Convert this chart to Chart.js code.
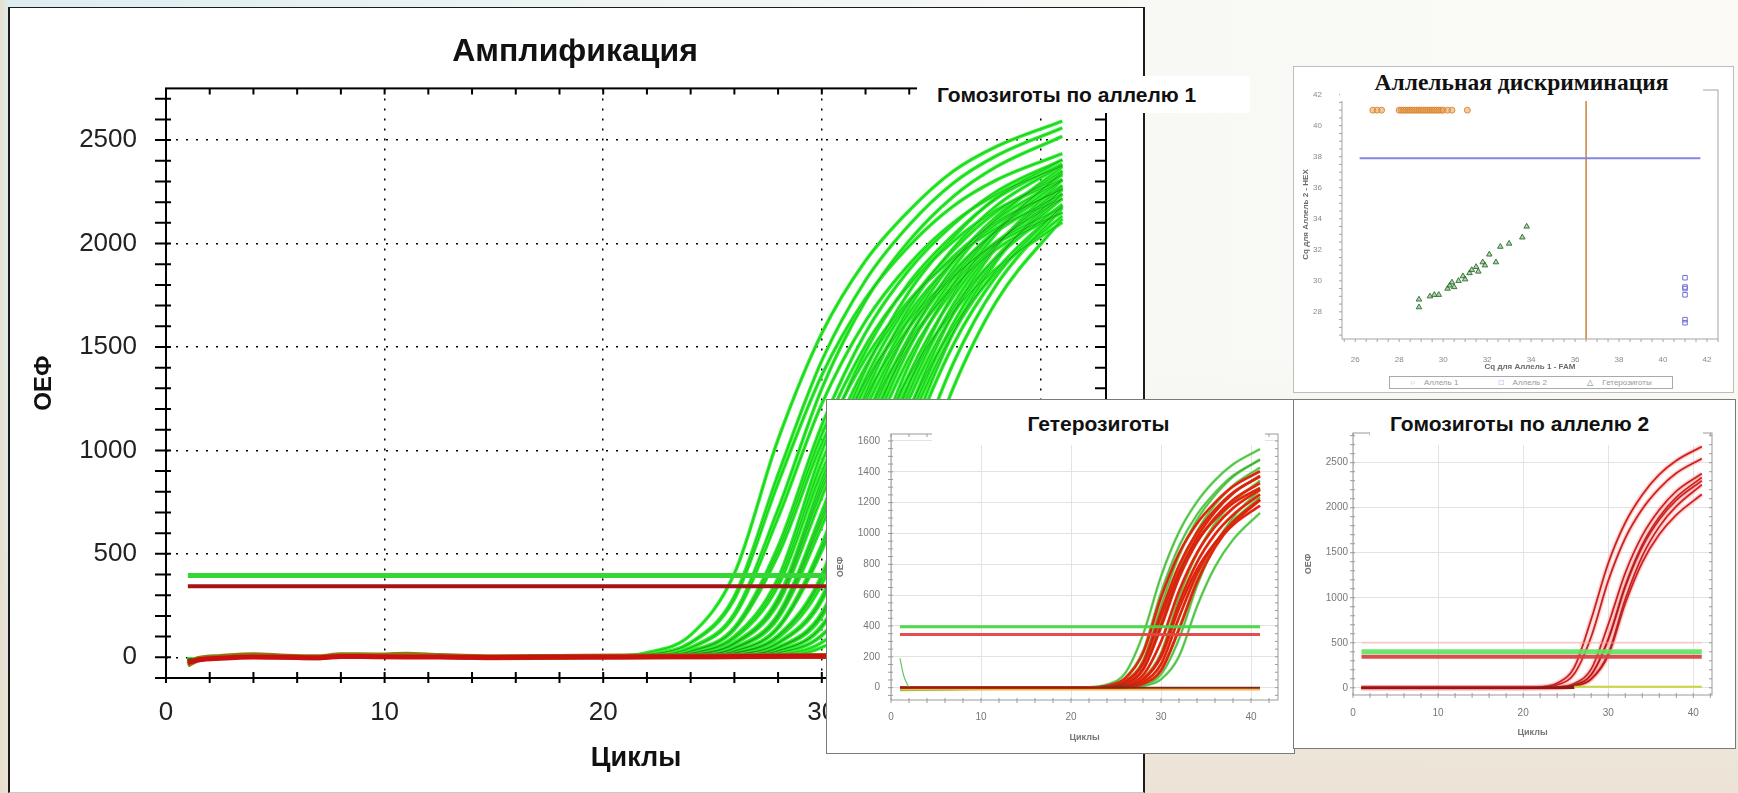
<!DOCTYPE html>
<html lang="ru">
<head>
<meta charset="utf-8">
<title>Амплификация</title>
<script src="https://cdn.jsdelivr.net/npm/chart.js@4.4.1/dist/chart.umd.min.js"></script>
<style>
  html, body { margin: 0; padding: 0; }
  body {
    width: 1738px; height: 793px; overflow: hidden; position: relative;
    background:
      linear-gradient(90deg, rgba(232,222,204,0.95) 0px, rgba(232,222,204,0) 9px),
      linear-gradient(180deg, rgba(236,227,214,0) 45%, rgba(236,227,214,1) 100%),
      linear-gradient(90deg, #dcedf1 0%, #eef5f4 35%, #f8f9f5 65%, #fbfaf6 100%);
    font-family: 'Liberation Sans', Arial, sans-serif;
  }
  .abs { position: absolute; }
  .box { position: absolute; box-sizing: border-box; background: #fff; }
  .tag { position: absolute; background: #fff; font-weight: bold; color: #111; white-space: nowrap; }
  .legend {
    position: absolute; box-sizing: border-box; border: 1px solid #aaa; background: #fff;
    display: flex; justify-content: space-around; align-items: center;
    font: 8px 'Liberation Sans', Arial, sans-serif; color: #999;
  }
</style>
</head>
<body>

<div class="box" style="left:8px;top:7px;width:1137px;height:786px;border:2px solid #1c1c1c;border-top-width:1px;border-bottom:1px solid #c8c8c8;"></div>
<canvas id="mainChart" class="abs" style="left:10px;top:10px;" width="1132" height="778"></canvas>
<div class="tag" style="left:917px;top:76px;width:333px;height:37px;line-height:37px;padding-left:20px;box-sizing:border-box;font-size:21px;">Гомозиготы по аллелю 1</div>

<div class="box" style="left:1293px;top:66px;width:441px;height:327px;border:1px solid #bdbdbd;"></div>
<canvas id="alleleChart" class="abs" style="left:1295px;top:68px;" width="437" height="323"></canvas>
<div class="tag" style="left:1340px;top:67px;width:363px;height:34px;line-height:30px;text-align:center;font-family:'Liberation Serif','Times New Roman',serif;font-size:23.5px;">Аллельная дискриминация</div>
<div class="legend" style="left:1389px;top:376px;width:284px;height:13px;">
  <span><span style="color:#e8b070">○</span>&nbsp;&nbsp;&nbsp;&nbsp;Аллель 1</span>
  <span><span style="color:#8080d8">□</span>&nbsp;&nbsp;&nbsp;&nbsp;Аллель 2</span>
  <span><span style="color:#6a8a6a">△</span>&nbsp;&nbsp;&nbsp;&nbsp;Гетерозиготы</span>
</div>

<div class="box" style="left:826px;top:399px;width:469px;height:355px;border:1px solid #7a7a7a;"></div>
<canvas id="hetChart" class="abs" style="left:828px;top:401px;" width="465" height="351"></canvas>
<div class="tag" style="left:932px;top:401px;width:333px;height:44px;line-height:46px;text-align:center;font-size:21px;">Гетерозиготы</div>

<div class="box" style="left:1293px;top:399px;width:443px;height:350px;border:1px solid #7a7a7a;"></div>
<canvas id="homChart" class="abs" style="left:1295px;top:401px;" width="439" height="345"></canvas>
<div class="tag" style="left:1370px;top:401px;width:333px;height:44px;line-height:46px;padding-left:20px;box-sizing:border-box;font-size:21px;">Гомозиготы по аллелю 2</div>

<script>
// ---- main chart: homozygotes allele 1 (FAM) ----
const MAIN_X_TICKS = [0, 10, 20, 30, 40];
const MAIN_Y_TICKS = [0, 500, 1000, 1500, 2000, 2500];
const MAIN_CYCLES = [1, 3, 20, 22, 24, 26, 28, 30, 32, 34, 36, 38, 41];
const mainCurves = [
  [-15, 0, 3, 22, 108, 405, 1053, 1566, 1917, 2160, 2349, 2470, 2592],
  [-12, 0, 2, 13, 72, 295, 884, 1434, 1822, 2090, 2291, 2425, 2559],
  [-10, 0, 2, 8, 48, 212, 716, 1299, 1723, 2014, 2226, 2372, 2518],
  [-14, 0, 1, 5, 31, 145, 536, 1122, 1568, 1874, 2091, 2252, 2405],
  [-8, 0, 1, 5, 29, 140, 515, 1078, 1507, 1801, 2009, 2163, 2310],
  [-12, 0, 0, 0, 20, 102, 383, 995, 1479, 1811, 2040, 2219, 2384],
  [-10, 0, 0, 0, 19, 97, 363, 944, 1404, 1718, 1936, 2105, 2263],
  [-16, 0, 0, 0, 13, 70, 286, 858, 1391, 1768, 2028, 2223, 2405],
  [-9, 0, 0, 0, 12, 66, 270, 809, 1311, 1666, 1911, 2095, 2266],
  [-13, 0, 0, 0, 8, 47, 208, 702, 1274, 1690, 1976, 2184, 2379],
  [-11, 0, 0, 0, 7, 44, 196, 662, 1200, 1593, 1862, 2058, 2242],
  [-14, 0, 0, 0, 5, 31, 148, 546, 1144, 1599, 1911, 2132, 2353],
  [-10, 0, 0, 0, 5, 29, 140, 515, 1078, 1507, 1801, 2009, 2217],
  [-12, 0, 0, 0, 0, 21, 106, 398, 1034, 1537, 1882, 2120, 2372],
  [-9, 0, 0, 0, 0, 20, 100, 375, 975, 1450, 1775, 2000, 2238],
  [-15, 0, 0, 0, 0, 13, 72, 292, 875, 1418, 1802, 2067, 2340],
  [-11, 0, 0, 0, 0, 12, 67, 273, 818, 1327, 1686, 1934, 2190],
  [-13, 0, 0, 0, 0, 8, 49, 216, 729, 1323, 1755, 2052, 2349],
  [-10, 0, 0, 0, 0, 8, 46, 204, 689, 1250, 1658, 1938, 2219],
  [-12, 0, 0, 0, 0, 5, 32, 154, 567, 1188, 1661, 1985, 2309],
  [-9, 0, 0, 0, 0, 5, 31, 145, 536, 1122, 1568, 1874, 2180],
  [-14, 0, 0, 0, 0, 0, 22, 108, 405, 1053, 1566, 1917, 2268],
  [-11, 0, 0, 0, 0, 0, 13, 72, 292, 875, 1418, 1802, 2173],
  [-10, 0, 0, 0, 0, 0, 8, 48, 212, 716, 1299, 1723, 2120],
  [-12, 0, 0, 0, 12, 63, 259, 776, 1257, 1598, 1833, 2009, 2174],
  [-8, 0, 0, 0, 0, 19, 94, 353, 917, 1363, 1669, 1880, 2103],
  [-13, 0, 0, 0, 8, 45, 202, 680, 1235, 1638, 1915, 2117, 2306],
  [-10, 0, 0, 0, 0, 7, 44, 196, 662, 1201, 1593, 1862, 2133],
  [-11, 0, 2, 13, 69, 281, 842, 1364, 1734, 1989, 2180, 2308, 2435],
  [-9, 0, 1, 8, 45, 200, 675, 1225, 1625, 1900, 2100, 2238, 2375],
  [-12, 0, 1, 5, 28, 134, 494, 1034, 1445, 1727, 1927, 2075, 2216],
  [-10, 0, 0, 0, 18, 92, 345, 897, 1334, 1633, 1840, 2001, 2151],
  [-13, 0, 0, 0, 13, 68, 277, 832, 1348, 1714, 1966, 2155, 2331],
  [-11, 0, 0, 0, 7, 42, 188, 635, 1152, 1528, 1786, 1974, 2150],
  [-14, 0, 0, 0, 5, 30, 144, 529, 1109, 1550, 1852, 2066, 2281],
  [-10, 0, 0, 0, 0, 21, 103, 387, 1006, 1496, 1832, 2064, 2309],
  [-12, 0, 0, 0, 0, 13, 69, 282, 845, 1370, 1741, 1997, 2260],
  [-9, 0, 0, 0, 0, 8, 47, 210, 707, 1284, 1703, 1991, 2279],
  [-13, 0, 0, 0, 0, 5, 31, 149, 550, 1153, 1611, 1926, 2240],
  [-11, 0, 0, 0, 0, 0, 21, 104, 390, 1014, 1508, 1846, 2184]
];
const BASE_X = [1, 1.5, 2.5, 4, 5.5, 7, 8, 9.5, 11, 12.5, 15, 18, 21, 25, 29, 33, 37, 41];
const MAIN_BASE_RED = [-25, -12, -4, 2, 0, -2, 4, 3, 2, 1, -1, 1, 2, 3, 5, 5, 4, 4];
const MAIN_BASE_OLIVE = [-35, -8, 2, 10, 3, 0, 10, 9, 12, 6, 0, 2, 4, 5, 6, 7, 6, 6];
const DIP_X = [1, 1.3, 1.8];
const MAIN_DIP = [-40, -25, -8];
const THR_X = [1, 41];
const MAIN_THR_GREEN = [396, 396];
const MAIN_THR_RED = [343, 343];

// ---- heterozygotes inset ----
const HET_X_TICKS = [0, 10, 20, 30, 40];
const HET_Y_TICKS = [0, 200, 400, 600, 800, 1000, 1200, 1400, 1600];
const HET_CYCLES = [1, 20, 22, 24, 26, 28, 30, 32, 34, 36, 38, 41];
const hetGreenCurves = [
  [-15, 0, 3, 20, 93, 344, 722, 1009, 1205, 1345, 1448, 1547],
  [-10, 0, 0, 13, 63, 237, 616, 916, 1122, 1264, 1375, 1477],
  [-12, 0, 0, 5, 28, 125, 421, 764, 1014, 1186, 1310, 1427],
  [-8, 0, 0, 0, 12, 60, 225, 585, 870, 1065, 1200, 1343],
  [-14, 0, 0, 0, 4, 26, 114, 383, 696, 923, 1079, 1235],
  [-10, 0, 0, 0, 0, 11, 54, 203, 527, 783, 959, 1134],
  [-12, 0, 0, 0, 3, 18, 86, 315, 660, 923, 1103, 1283],
  [-9, 0, 0, 8, 43, 176, 528, 856, 1088, 1248, 1368, 1480]
];
const hetRedCurves = [
  [0, 0, 0, 12, 60, 225, 585, 870, 1065, 1200, 1305, 1403],
  [0, 0, 0, 7, 40, 163, 488, 792, 1006, 1154, 1265, 1369],
  [0, 0, 0, 4, 26, 116, 392, 711, 943, 1102, 1218, 1327],
  [0, 0, 0, 3, 17, 81, 298, 625, 873, 1044, 1164, 1285],
  [0, 0, 0, 0, 11, 56, 210, 546, 812, 994, 1120, 1253],
  [0, 0, 0, 0, 7, 37, 152, 455, 738, 938, 1076, 1219],
  [0, 0, 0, 5, 27, 120, 405, 735, 975, 1140, 1260, 1373],
  [0, 0, 0, 0, 4, 25, 112, 378, 686, 910, 1064, 1218],
  [0, 0, 0, 7, 38, 154, 462, 749, 952, 1092, 1197, 1295],
  [0, 0, 0, 0, 11, 53, 198, 515, 766, 937, 1056, 1181]
];
const HET_SPIKE_X = [1, 1.4, 2];
const HET_SPIKE = [190, 80, 0];
const HET_BASE_DARK = [0, 0];
const HET_BASE_ORANGE = [-12, -12];
const HET_THR_GREEN = [395, 395];
const HET_THR_RED = [345, 345];

// ---- homozygotes allele 2 inset ----
const HOM_X_TICKS = [0, 10, 20, 30, 40];
const HOM_Y_TICKS = [0, 500, 1000, 1500, 2000, 2500];
const HOM_CYCLES = [1, 20, 22, 24, 26, 28, 30, 32, 34, 36, 38, 41];
const homCurves = [
  [0, 0, 8, 51, 226, 761, 1382, 1833, 2143, 2369, 2524, 2679],
  [0, 0, 5, 32, 154, 567, 1188, 1661, 1985, 2214, 2384, 2546],
  [0, 0, 0, 8, 47, 208, 702, 1274, 1690, 1976, 2184, 2379],
  [0, 0, 0, 5, 31, 147, 542, 1135, 1587, 1896, 2116, 2335],
  [0, 0, 0, 5, 30, 145, 533, 1118, 1562, 1867, 2083, 2299],
  [0, 0, 0, 0, 20, 101, 378, 983, 1462, 1789, 2016, 2255],
  [0, 0, 0, 0, 19, 96, 360, 936, 1392, 1704, 1920, 2148]
];
const HOM_BASE_DARK_X = [1, 26];
const HOM_BASE_DARK = [0, 0];
const HOM_BASE_YELLOW_X = [26, 41];
const HOM_BASE_YELLOW = [12, 12];
const HOM_THR_GREEN = [400, 400];
const HOM_THR_RED = [345, 345];
const HOM_THR_PINK = [500, 500];

// ---- allelic discrimination scatter ----
const AD_X_TICKS = [26, 28, 30, 32, 34, 36, 38, 40, 42];
const AD_Y_TICKS = [28, 30, 32, 34, 36, 38, 40, 42];
const ALLELE1_X = [26.8, 27.0, 27.2, 28.0, 28.1, 28.2, 28.3, 28.4, 28.5, 28.6, 28.7, 28.8, 28.9, 29.0, 29.1, 29.2, 29.3, 29.4, 29.5, 29.6, 29.7, 29.8, 29.9, 30.0, 30.2, 30.4, 31.1];
const ALLELE1_Y = [41.0, 41.0, 41.0, 41.0, 41.0, 41.0, 41.0, 41.0, 41.0, 41.0, 41.0, 41.0, 41.0, 41.0, 41.0, 41.0, 41.0, 41.0, 41.0, 41.0, 41.0, 41.0, 41.0, 41.0, 41.0, 41.0, 41.0];
const ALLELE2_X = [41.0, 41.0, 41.0, 41.0, 41.0, 41.0];
const ALLELE2_Y = [30.2, 29.6, 29.5, 29.1, 27.5, 27.3];
const HETERO_X = [28.9, 28.9, 29.4, 29.6, 29.8, 30.2, 30.3, 30.4, 30.5, 30.7, 30.9, 31.0, 31.2, 31.3, 31.5, 31.6, 31.8, 31.9, 32.1, 32.4, 32.6, 33.0, 33.6, 33.8];
const HETERO_Y = [28.3, 28.8, 29.0, 29.1, 29.1, 29.5, 29.7, 29.9, 29.6, 30.0, 30.3, 30.1, 30.5, 30.7, 30.9, 30.6, 31.2, 31.0, 31.7, 31.2, 32.2, 32.4, 32.8, 33.5];
const CUT_HEX_X = [26.2, 41.7];
const CUT_HEX_Y = [37.9, 37.9];
const CUT_FAM_X = [36.5, 36.5];
const CUT_FAM_Y = [26.25, 42.3];

const SANS = "'Liberation Sans', Arial, sans-serif";

// frame around the plot area plus the minor tick marks on all four sides
const frameTicks = {
  id: 'frameTicks',
  afterDatasetsDraw(chart, args, o) {
    const { ctx, chartArea: a } = chart;
    const x = chart.scales.x, y = chart.scales.y;
    ctx.save();
    ctx.strokeStyle = o.color;
    ctx.lineWidth = o.width;
    ctx.strokeRect(a.left, a.top, a.right - a.left, a.bottom - a.top);
    ctx.beginPath();
    for (let i = Math.ceil(x.min / o.xStep); i * o.xStep <= x.max; i++) {
      const px = x.getPixelForValue(i * o.xStep);
      ctx.moveTo(px, a.bottom - o.bIn); ctx.lineTo(px, a.bottom + o.bOut);
      if (o.tIn) { ctx.moveTo(px, a.top); ctx.lineTo(px, a.top + o.tIn); }
    }
    for (let i = Math.ceil(y.min / o.yStep); i * o.yStep <= y.max; i++) {
      const py = y.getPixelForValue(i * o.yStep);
      ctx.moveTo(a.left - o.lOut, py); ctx.lineTo(a.left + o.lIn, py);
      if (o.rIn) { ctx.moveTo(a.right - o.rIn, py); ctx.lineTo(a.right, py); }
    }
    ctx.stroke();
    ctx.restore();
  }
};

function points(xs, ys) {
  return ys.map((v, i) => ({ x: xs[i], y: v }));
}

function lineSet(xs, ys, color, width, order) {
  return {
    data: points(xs, ys),
    borderColor: color,
    borderWidth: width,
    pointRadius: 0,
    fill: false,
    cubicInterpolationMode: 'monotone',
    order: order
  };
}

function fixedTicks(values) {
  return function(scale) {
    scale.ticks = values.map(v => ({ value: v }));
  };
}

const plainLabel = v => String(v);

// shared axis setup for the three amplification plots
function ampScales(c) {
  return {
    x: {
      type: 'linear', min: c.xMin, max: c.xMax,
      afterBuildTicks: fixedTicks(c.xTicks),
      afterFit: s => { s.height = c.xHeight; },
      ticks: { padding: c.xPad, maxRotation: 0, autoSkip: false, color: c.tickColor, font: c.tickFont, callback: plainLabel },
      grid: { drawTicks: false, color: c.gridColor, lineWidth: c.gridWidth },
      border: { display: false, dash: c.dash },
      title: { display: true, text: 'Циклы', color: c.titleColor, font: c.xTitleFont, padding: { top: 0, bottom: c.xTitlePad } }
    },
    y: {
      type: 'linear', min: c.yMin, max: c.yMax,
      afterBuildTicks: fixedTicks(c.yTicks),
      afterFit: s => { s.width = c.yWidth; },
      ticks: { padding: c.yPad, autoSkip: false, color: c.tickColor, font: c.tickFont, callback: plainLabel },
      grid: { drawTicks: false, color: c.gridColor, lineWidth: c.gridWidth },
      border: { display: false, dash: c.dash },
      title: { display: true, text: 'ОЕФ', color: c.titleColor, font: c.yTitleFont, padding: { top: c.yTitlePad, bottom: 0 } }
    }
  };
}

const baseOptions = {
  responsive: false,
  animation: false,
  events: [],
  elements: { point: { radius: 0 } }
};

// Main amplification chart
function initMainChart() {
  const datasets = [
    lineSet(THR_X, MAIN_THR_GREEN, '#36d636', 5, 0),
    lineSet(THR_X, MAIN_THR_RED, '#a41414', 4, 0),
    lineSet(BASE_X, MAIN_BASE_RED, '#cc1010', 5, 1),
    lineSet(BASE_X, MAIN_BASE_OLIVE, '#8c7a12', 6, 2),
    lineSet(DIP_X, MAIN_DIP, '#45b845', 3, 2)
  ];
  mainCurves.forEach(c => datasets.push(lineSet(MAIN_CYCLES, c, 'rgba(30,120,30,0.55)', 0.8, 3)));
  mainCurves.forEach(c => datasets.push(lineSet(MAIN_CYCLES, c, '#2cf22c', 3.5, 4)));

  new Chart(document.getElementById('mainChart'), {
    type: 'line',
    data: { datasets },
    options: Object.assign({}, baseOptions, {
      layout: { padding: { left: 34, right: 36, top: 0, bottom: 0 } },
      plugins: {
        legend: { display: false },
        tooltip: { enabled: false },
        title: {
          display: true, text: 'Амплификация', color: '#111',
          font: { family: SANS, size: 32, weight: 'bold', lineHeight: 1.2 },
          padding: { top: 23, bottom: 17 }
        },
        frameTicks: { color: '#000', width: 2, xStep: 2, yStep: 100, bIn: 6, bOut: 5, tIn: 6, lOut: 11, lIn: 5, rIn: 11 }
      },
      scales: ampScales({
        xMin: 0, xMax: 43, yMin: -100, yMax: 2750,
        xTicks: MAIN_X_TICKS, yTicks: MAIN_Y_TICKS,
        xHeight: 110, yWidth: 122, xPad: 19, yPad: 29,
        tickColor: '#222', tickFont: { family: SANS, size: 26, lineHeight: 1.2 },
        gridColor: '#000', gridWidth: 1.5, dash: [2, 8],
        titleColor: '#111',
        xTitleFont: { family: SANS, size: 27, weight: 'bold', lineHeight: 1.2 }, xTitlePad: 13,
        yTitleFont: { family: SANS, size: 24, weight: 'bold', lineHeight: 1.2 }, yTitlePad: -14
      })
    }),
    plugins: [frameTicks]
  });
}

// Heterozygotes inset
function initHetChart() {
  const datasets = [
    lineSet(THR_X, HET_THR_GREEN, 'rgba(70,215,70,0.95)', 3, 0),
    lineSet(THR_X, HET_THR_RED, 'rgba(225,70,70,0.95)', 3, 0),
    lineSet(THR_X, HET_BASE_DARK, '#7a2a1a', 2, 1),
    lineSet(THR_X, HET_BASE_ORANGE, '#ffb347', 2, 2),
    lineSet(HET_SPIKE_X, HET_SPIKE, '#66c266', 1.2, 2)
  ];
  hetRedCurves.forEach(c => datasets.push(lineSet(HET_CYCLES, c, 'rgba(120,45,20,0.55)', 0.7, 3)));
  hetRedCurves.forEach(c => datasets.push(lineSet(HET_CYCLES, c, '#f0280f', 2.8, 4)));
  hetGreenCurves.forEach(c => datasets.push(lineSet(HET_CYCLES, c, 'rgba(60,110,40,0.6)', 0.7, 5)));
  hetGreenCurves.forEach(c => datasets.push(lineSet(HET_CYCLES, c, 'rgba(90,215,80,0.9)', 2.6, 6)));

  new Chart(document.getElementById('hetChart'), {
    type: 'line',
    data: { datasets },
    options: Object.assign({}, baseOptions, {
      layout: { padding: { left: 0, right: 15, top: 33, bottom: 0 } },
      plugins: {
        legend: { display: false },
        tooltip: { enabled: false },
        frameTicks: { color: '#9a9a9a', width: 1, xStep: 2, yStep: 50, bIn: 2, bOut: 3, tIn: 3, lOut: 3, lIn: 2, rIn: 3 }
      },
      scales: ampScales({
        xMin: 0, xMax: 43, yMin: -80, yMax: 1645,
        xTicks: HET_X_TICKS, yTicks: HET_Y_TICKS,
        xHeight: 52, yWidth: 63, xPad: 11, yPad: 11,
        tickColor: '#777', tickFont: { family: SANS, size: 10, lineHeight: 1.2 },
        gridColor: '#e3e3e3', gridWidth: 1, dash: [],
        titleColor: '#777',
        xTitleFont: { family: SANS, size: 9, weight: 'bold', lineHeight: 1.2 }, xTitlePad: 9,
        yTitleFont: { family: SANS, size: 9, weight: 'bold', lineHeight: 1.2 }, yTitlePad: 7
      })
    }),
    plugins: [frameTicks]
  });
}

// Homozygotes allele 2 inset
function initHomChart() {
  const datasets = [
    lineSet(THR_X, HOM_THR_GREEN, 'rgba(95,225,95,0.9)', 5, 0),
    lineSet(THR_X, HOM_THR_RED, 'rgba(215,70,70,0.95)', 4, 0),
    lineSet(THR_X, HOM_THR_PINK, 'rgba(255,170,170,0.45)', 2, 0),
    lineSet(HOM_BASE_DARK_X, HOM_BASE_DARK, '#8a1a1a', 2.5, 1),
    lineSet(HOM_BASE_YELLOW_X, HOM_BASE_YELLOW, '#c9d43a', 2, 1)
  ];
  homCurves.forEach(c => datasets.push(lineSet(HOM_CYCLES, c, 'rgba(110,20,20,0.7)', 0.8, 2)));
  homCurves.forEach(c => datasets.push(lineSet(HOM_CYCLES, c, '#ef3b3b', 2, 3)));
  homCurves.forEach(c => datasets.push(lineSet(HOM_CYCLES, c, 'rgba(255,150,150,0.35)', 5, 4)));

  new Chart(document.getElementById('homChart'), {
    type: 'line',
    data: { datasets },
    options: Object.assign({}, baseOptions, {
      layout: { padding: { left: 0, right: 22, top: 32, bottom: 0 } },
      plugins: {
        legend: { display: false },
        tooltip: { enabled: false },
        frameTicks: { color: '#9a9a9a', width: 1, xStep: 2, yStep: 100, bIn: 2, bOut: 3, tIn: 3, lOut: 3, lIn: 2, rIn: 3 }
      },
      scales: ampScales({
        xMin: 0, xMax: 42.2, yMin: -80, yMax: 2830,
        xTicks: HOM_X_TICKS, yTicks: HOM_Y_TICKS,
        xHeight: 51, yWidth: 58, xPad: 12, yPad: 5,
        tickColor: '#777', tickFont: { family: SANS, size: 10, lineHeight: 1.2 },
        gridColor: '#e3e3e3', gridWidth: 1, dash: [],
        titleColor: '#777',
        xTitleFont: { family: SANS, size: 9, weight: 'bold', lineHeight: 1.2 }, xTitlePad: 8,
        yTitleFont: { family: SANS, size: 9, weight: 'bold', lineHeight: 1.2 }, yTitlePad: 8
      })
    }),
    plugins: [frameTicks]
  });
}

// Allelic discrimination scatter
function initAlleleChart() {
  const tickFont = { family: SANS, size: 8, lineHeight: 1.2 };
  const titleFont = { family: SANS, size: 8, weight: 'bold', lineHeight: 1.2 };
  new Chart(document.getElementById('alleleChart'), {
    type: 'scatter',
    data: {
      datasets: [
        { data: points(CUT_HEX_X, CUT_HEX_Y), showLine: true, borderColor: '#8484e2', borderWidth: 2, pointRadius: 0, order: 3 },
        { data: points(CUT_FAM_X, CUT_FAM_Y), showLine: true, borderColor: '#c9803c', borderWidth: 1.5, pointRadius: 0, order: 3 },
        { data: points(ALLELE1_X, ALLELE1_Y), pointStyle: 'circle', pointRadius: 3, borderWidth: 1,
          borderColor: 'rgba(215,130,45,0.85)', backgroundColor: 'rgba(232,160,80,0.55)', order: 1 },
        { data: points(ALLELE2_X, ALLELE2_Y), pointStyle: 'rect', pointRadius: 3.2, borderWidth: 1,
          borderColor: '#7272d6', backgroundColor: 'rgba(255,255,255,0)', order: 1 },
        { data: points(HETERO_X, HETERO_Y), pointStyle: 'triangle', pointRadius: 3.2, borderWidth: 1,
          borderColor: 'rgba(45,110,45,0.9)', backgroundColor: 'rgba(70,160,70,0.45)', order: 0 }
      ]
    },
    options: Object.assign({}, baseOptions, {
      layout: { padding: { left: 0, right: 14, top: 22, bottom: 0 } },
      plugins: {
        legend: { display: false },
        tooltip: { enabled: false },
        frameTicks: { color: '#a4a4a4', width: 1, xStep: 0.5, yStep: 0.5, bIn: 0, bOut: 3, tIn: 0, lOut: 3, lIn: 0, rIn: 0 }
      },
      scales: {
        x: {
          type: 'linear', min: 25.4, max: 42.5,
          afterBuildTicks: fixedTicks(AD_X_TICKS),
          afterFit: s => { s.height = 52; },
          ticks: { padding: 8, maxRotation: 0, autoSkip: false, color: '#8a8a8a', font: tickFont, callback: plainLabel },
          grid: { display: false },
          border: { display: false },
          title: { display: true, text: 'Cq для Аллель 1 - FAM', color: '#6a6a6a', font: titleFont, padding: { top: 0, bottom: 19 } }
        },
        y: {
          type: 'linear', min: 26.25, max: 42.3,
          afterBuildTicks: fixedTicks(AD_Y_TICKS),
          afterFit: s => { s.width = 47; },
          ticks: { padding: 12, autoSkip: false, color: '#8a8a8a', font: tickFont, callback: plainLabel },
          grid: { display: false },
          border: { display: false },
          title: { display: true, text: 'Cq для Аллель 2 - HEX', color: '#6a6a6a', font: titleFont, padding: { top: 6, bottom: 0 } }
        }
      }
    }),
    plugins: [frameTicks]
  });
}

initMainChart();
initAlleleChart();
initHetChart();
initHomChart();
</script>
</body>
</html>
